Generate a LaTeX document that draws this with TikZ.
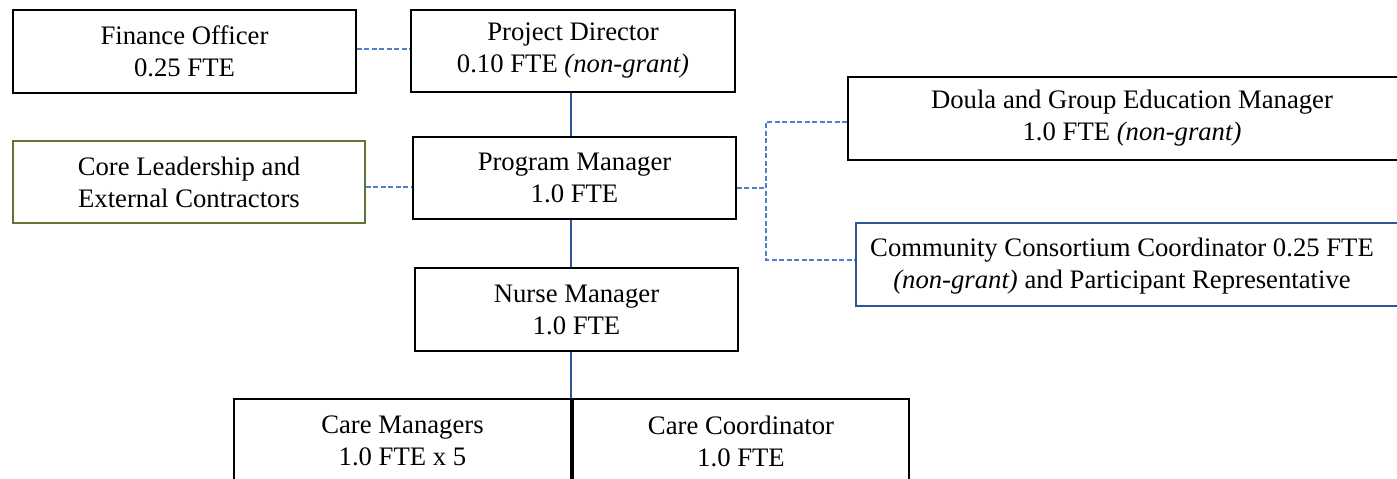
\documentclass[tikz,border=0pt]{standalone}
\usepackage{fontspec}
\setmainfont{Liberation Serif}
\definecolor{linkblue}{RGB}{47,85,151}
\definecolor{dashblue}{RGB}{79,129,199}
\definecolor{leafgreen}{RGB}{94,117,52}
\tikzset{
  box/.style={draw=black, line width=1.8pt, rectangle, inner sep=0pt, align=center,
    font=\fontsize{26.7}{32}\selectfont},
  solidlink/.style={draw=linkblue, line width=1.6pt},
  dashlink/.style={draw=dashblue, line width=1.6pt, dash pattern=on 5pt off 2.5pt},
}
\begin{document}
\begin{tikzpicture}[x=1pt, y=-1pt]
\useasboundingbox (0,0) rectangle (1397,479);
\clip (0,0) rectangle (1397,479);

% boxes
\node[box, minimum width=343pt, minimum height=83pt] (fin) at (184.5,51.5) {Finance Officer\\0.25 FTE};
\node[box, minimum width=324pt, minimum height=82pt] (pd) at (573,51) {Project Director\\0.10 FTE \textit{(non-grant)}};
\node[box, draw=leafgreen, minimum width=352pt, minimum height=82pt] (core) at (189,182) {Core Leadership and\\External Contractors};
\node[box, minimum width=323pt, minimum height=82pt] (pm) at (574.5,178) {Program Manager\\1.0 FTE};
\node[box, minimum width=568pt, minimum height=83pt] (doula) at (1132,118.5) {Doula and Group Education Manager\\1.0 FTE \textit{(non-grant)}};
\node[box, draw=linkblue, minimum width=560pt, minimum height=83pt] (comm) at (1136,264.5) {};
\node[box, draw=none] (commtext) at (1122,266) {Community Consortium Coordinator 0.25 FTE\\\textit{(non-grant)} and Participant Representative};
\node[box, minimum width=323pt, minimum height=83pt] (nm) at (576.5,309.5) {Nurse Manager\\1.0 FTE};
\node[box, minimum width=337pt, minimum height=84pt] (cm) at (402.5,441) {Care Managers\\1.0 FTE x 5};
\node[box, minimum width=336pt, minimum height=84pt] (cc) at (741,441) {Care Coordinator\\1.0 FTE};

% junction points of the connectors
\coordinate (spine) at (571,0);
\coordinate (yfin) at (0,49);
\coordinate (ycore) at (0,187);
\coordinate (ypm) at (0,188);
\coordinate (ydoula) at (0,122);
\coordinate (ycomm) at (0,260);
\coordinate (jx) at (766,0);

% reporting line
\draw[solidlink] (spine |- pd.south) -- (spine |- pm.north);
\draw[solidlink] (spine |- pm.south) -- (spine |- nm.north);
\draw[solidlink] (spine |- nm.south) -- (spine |- cm.north);

% dotted advisory lines
\draw[dashlink] (fin.east |- yfin) -- (pd.west |- yfin);
\draw[dashlink] (core.east |- ycore) -- (pm.west |- ycore);
\draw[dashlink] (pm.east |- ypm) -- (jx |- ypm);
\draw[dashlink] (doula.west |- ydoula) -| (jx |- ycomm) -- (comm.west |- ycomm);
\end{tikzpicture}
\end{document}
